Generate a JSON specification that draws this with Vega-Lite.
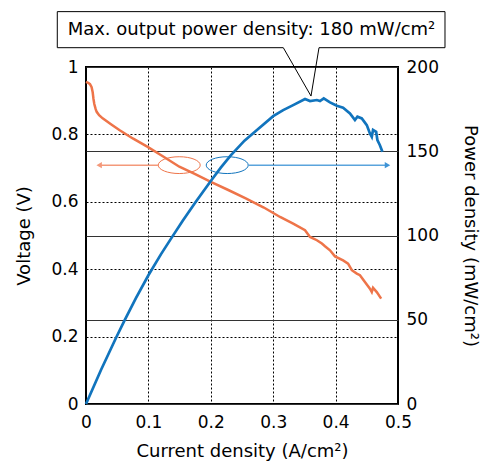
{
  "$schema": "https://vega.github.io/schema/vega-lite/v6.json",
  "width": 312,
  "height": 337,
  "autosize": {"type": "none"},
  "padding": {"left": 86, "top": 67, "right": 85, "bottom": 57},
  "background": "white",
  "config": {
    "font": "DejaVu Sans",
    "view": {"stroke": "black", "strokeWidth": 2},
    "axis": {
      "labelFont": "DejaVu Sans",
      "titleFont": "DejaVu Sans",
      "labelFontSize": 17,
      "titleFontSize": 18,
      "titleFontWeight": "normal",
      "labelColor": "black",
      "titleColor": "black",
      "ticks": false,
      "tickSize": 0,
      "domain": false,
      "labelFlush": false,
      "labelOverlap": false
    }
  },
  "datasets": {
    "volt": [
      {"j": 0.0, "v": 0.956}, {"j": 0.0035, "v": 0.953}, {"j": 0.0064, "v": 0.949},
      {"j": 0.009, "v": 0.94}, {"j": 0.0107, "v": 0.925}, {"j": 0.012, "v": 0.905},
      {"j": 0.0133, "v": 0.89}, {"j": 0.0155, "v": 0.875}, {"j": 0.0171, "v": 0.867},
      {"j": 0.021, "v": 0.857}, {"j": 0.0267, "v": 0.8475}, {"j": 0.04, "v": 0.83},
      {"j": 0.0534, "v": 0.813}, {"j": 0.075, "v": 0.788}, {"j": 0.0988, "v": 0.763},
      {"j": 0.125, "v": 0.733}, {"j": 0.1496, "v": 0.704}, {"j": 0.175, "v": 0.682},
      {"j": 0.2, "v": 0.659}, {"j": 0.228, "v": 0.635}, {"j": 0.256, "v": 0.61},
      {"j": 0.285, "v": 0.583}, {"j": 0.311, "v": 0.555}, {"j": 0.332, "v": 0.5355},
      {"j": 0.351, "v": 0.5156}, {"j": 0.359, "v": 0.4957}, {"j": 0.37, "v": 0.486},
      {"j": 0.378, "v": 0.476}, {"j": 0.383, "v": 0.468}, {"j": 0.391, "v": 0.456},
      {"j": 0.399, "v": 0.438}, {"j": 0.412, "v": 0.426}, {"j": 0.42, "v": 0.4166},
      {"j": 0.426, "v": 0.397}, {"j": 0.434, "v": 0.387}, {"j": 0.439, "v": 0.382},
      {"j": 0.447, "v": 0.362}, {"j": 0.455, "v": 0.342}, {"j": 0.458, "v": 0.332},
      {"j": 0.46, "v": 0.345}, {"j": 0.466, "v": 0.332}, {"j": 0.473, "v": 0.3126}
    ],
    "power": [
      {"j": 0.0, "p": 0.0}, {"j": 0.024, "p": 20.2}, {"j": 0.048, "p": 39.2},
      {"j": 0.0614, "p": 49.3}, {"j": 0.08, "p": 62.8}, {"j": 0.1, "p": 76.4},
      {"j": 0.12, "p": 88.8}, {"j": 0.136, "p": 98.0}, {"j": 0.155, "p": 108.8},
      {"j": 0.176, "p": 120.0}, {"j": 0.2, "p": 132.3}, {"j": 0.216, "p": 140.3},
      {"j": 0.232, "p": 147.6}, {"j": 0.254, "p": 156.3}, {"j": 0.2735, "p": 162.5},
      {"j": 0.3, "p": 170.8}, {"j": 0.316, "p": 174.4}, {"j": 0.332, "p": 177.4},
      {"j": 0.351, "p": 181.0}, {"j": 0.359, "p": 179.8}, {"j": 0.37, "p": 180.4},
      {"j": 0.375, "p": 179.8}, {"j": 0.381, "p": 181.4}, {"j": 0.391, "p": 179.0},
      {"j": 0.402, "p": 177.0}, {"j": 0.412, "p": 175.8}, {"j": 0.423, "p": 172.5},
      {"j": 0.431, "p": 168.5}, {"j": 0.435, "p": 170.5}, {"j": 0.442, "p": 169.5},
      {"j": 0.45, "p": 165.5}, {"j": 0.455, "p": 160.6}, {"j": 0.458, "p": 158.6},
      {"j": 0.46, "p": 162.6}, {"j": 0.465, "p": 161.5}, {"j": 0.467, "p": 156.6},
      {"j": 0.471, "p": 153.6}, {"j": 0.475, "p": 149.7}
    ],
    "callout": [
      {"i": 1, "j": -0.046, "v": 1.1643}, {"i": 2, "j": 0.5753, "v": 1.1643},
      {"i": 3, "j": 0.5753, "v": 1.0573}, {"i": 4, "j": 0.3734, "v": 1.0573},
      {"i": 5, "j": 0.3606, "v": 0.9138}, {"i": 6, "j": 0.3162, "v": 1.0573},
      {"i": 7, "j": -0.046, "v": 1.0573}, {"i": 8, "j": -0.046, "v": 1.1643}
    ],
    "label": [
      {"j": 0.2652, "v": 1.1108, "text": "Max. output power density: 180 mW/cm²"}
    ],
    "ellipses": [
      {"side": "voltage", "j": 0.1494, "v": 0.7088},
      {"side": "power", "j": 0.2263, "v": 0.7088}
    ],
    "arrows": [
      {"side": "voltage", "j": 0.116, "j2": 0.022, "v": 0.7088, "head": 0.0211},
      {"side": "power", "j": 0.2601, "j2": 0.482, "v": 0.7088, "head": 0.4832}
    ]
  },
  "layer": [
    {
      "layer": [
        {
          "data": {"name": "volt"},
          "mark": {"type": "line", "color": "#ee7449", "strokeWidth": 2.5},
          "encoding": {
            "x": {
              "field": "j", "type": "quantitative",
              "scale": {"domain": [0, 0.5], "nice": false, "zero": false},
              "axis": {
                "values": [0, 0.1, 0.2, 0.3, 0.4, 0.5],
                "format": "~g",
                "grid": true, "gridDash": [2, 2], "gridColor": "black", "gridWidth": 1, "gridOpacity": 1,
                "labelPadding": 10,
                "title": "Current density (A/cm²)",
                "titlePadding": 12
              }
            },
            "y": {
              "field": "v", "type": "quantitative",
              "scale": {"domain": [0, 1], "nice": false, "zero": false},
              "axis": {
                "values": [0, 0.2, 0.4, 0.6, 0.8, 1],
                "format": "~g",
                "grid": true, "gridDash": [2, 2], "gridColor": "black", "gridWidth": 1, "gridOpacity": 1,
                "labelPadding": 8,
                "title": "Voltage (V)",
                "titlePadding": 17
              }
            }
          }
        },
        {
          "data": {"name": "callout"},
          "mark": {"type": "line", "color": "black", "strokeWidth": 1, "strokeJoin": "miter"},
          "encoding": {
            "x": {"field": "j", "type": "quantitative"},
            "y": {"field": "v", "type": "quantitative"},
            "order": {"field": "i", "type": "quantitative"}
          }
        },
        {
          "data": {"name": "label"},
          "mark": {"type": "text", "font": "DejaVu Sans", "fontSize": 18, "color": "black", "align": "center", "baseline": "middle"},
          "encoding": {
            "x": {"field": "j", "type": "quantitative"},
            "y": {"field": "v", "type": "quantitative"},
            "text": {"field": "text"}
          }
        },
        {
          "data": {"name": "ellipses"},
          "transform": [{"filter": "datum.side == 'voltage'"}],
          "mark": {"type": "point", "shape": "M -1 0 A 1 0.4 0 1 0 1 0 A 1 0.4 0 1 0 -1 0 Z", "size": 1764, "filled": false, "stroke": "#ee7449", "strokeWidth": 1, "opacity": 1},
          "encoding": {
            "x": {"field": "j", "type": "quantitative"},
            "y": {"field": "v", "type": "quantitative"}
          }
        },
        {
          "data": {"name": "ellipses"},
          "transform": [{"filter": "datum.side == 'power'"}],
          "mark": {"type": "point", "shape": "M -1 0 A 1 0.4 0 1 0 1 0 A 1 0.4 0 1 0 -1 0 Z", "size": 1764, "filled": false, "stroke": "#1174bd", "strokeWidth": 1, "opacity": 1},
          "encoding": {
            "x": {"field": "j", "type": "quantitative"},
            "y": {"field": "v", "type": "quantitative"}
          }
        },
        {
          "data": {"name": "arrows"},
          "transform": [{"filter": "datum.side == 'voltage'"}],
          "mark": {"type": "rule", "color": "#f4997a", "strokeWidth": 1.5},
          "encoding": {
            "x": {"field": "j", "type": "quantitative"},
            "x2": {"field": "j2"},
            "y": {"field": "v", "type": "quantitative"}
          }
        },
        {
          "data": {"name": "arrows"},
          "transform": [{"filter": "datum.side == 'power'"}],
          "mark": {"type": "rule", "color": "#5aa4dc", "strokeWidth": 1.5},
          "encoding": {
            "x": {"field": "j", "type": "quantitative"},
            "x2": {"field": "j2"},
            "y": {"field": "v", "type": "quantitative"}
          }
        },
        {
          "data": {"name": "arrows"},
          "transform": [{"filter": "datum.side == 'voltage'"}],
          "mark": {"type": "point", "shape": "triangle-left", "size": 40, "filled": true, "color": "#f4997a", "opacity": 1},
          "encoding": {
            "x": {"field": "head", "type": "quantitative"},
            "y": {"field": "v", "type": "quantitative"}
          }
        },
        {
          "data": {"name": "arrows"},
          "transform": [{"filter": "datum.side == 'power'"}],
          "mark": {"type": "point", "shape": "triangle-right", "size": 40, "filled": true, "color": "#3d93d6", "opacity": 1},
          "encoding": {
            "x": {"field": "head", "type": "quantitative"},
            "y": {"field": "v", "type": "quantitative"}
          }
        }
      ]
    },
    {
      "data": {"name": "power"},
      "mark": {"type": "line", "color": "#1174bd", "strokeWidth": 2.7},
      "encoding": {
        "x": {"field": "j", "type": "quantitative"},
        "y": {
          "field": "p", "type": "quantitative",
          "scale": {"domain": [0, 200], "nice": false, "zero": false},
          "axis": {
            "orient": "right",
            "values": [0, 50, 100, 150, 200],
            "grid": true, "gridColor": "#333333", "gridWidth": 1, "gridOpacity": 1,
            "labelPadding": 8,
            "title": "Power density (mW/cm²)",
            "titlePadding": 22
          }
        }
      }
    }
  ],
  "resolve": {"scale": {"y": "independent"}}
}
